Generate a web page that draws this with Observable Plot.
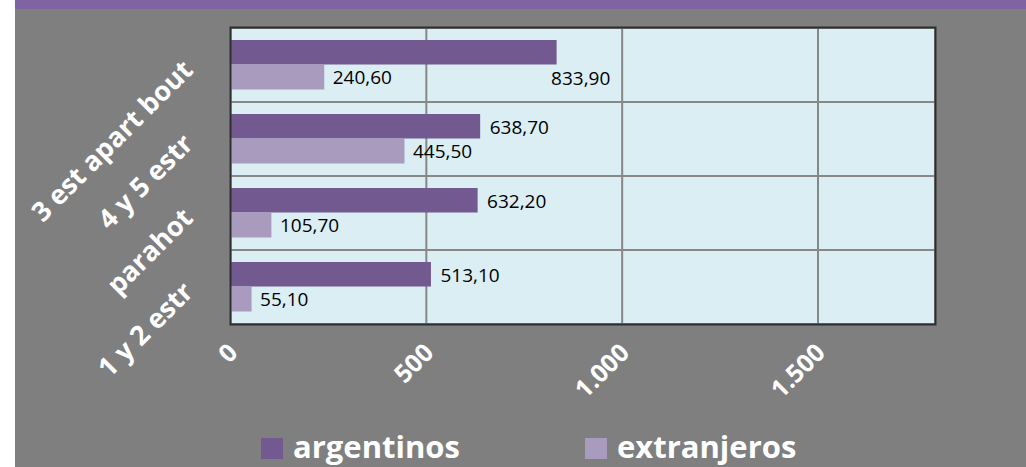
<!DOCTYPE html>
<html>
<head>
<meta charset="utf-8">
<script src="https://cdn.jsdelivr.net/npm/d3@7"></script>
<script src="https://cdn.jsdelivr.net/npm/@observablehq/plot@0.6"></script>
<style>
  html, body { margin: 0; padding: 0; background: #ffffff; overflow: hidden; }
  #wrap { position: absolute; left: 15px; top: 0; width: 1011px; height: 467px; background: #7f7f7f; overflow: hidden; font-family: "Open Sans", sans-serif; }
  #strip { position: absolute; left: 0; top: 0; width: 1011px; height: 9px; background: #8064a2; }
  #chart { position: absolute; left: 0; top: 0; }
  .leg { position: absolute; top: 431px; display: flex; align-items: center; color: #ffffff; font-weight: bold; font-size: 31px; line-height: 30px; height: 30px; }
  .sw { width: 22px; height: 21px; margin-right: 10px; margin-top: 4px; }
</style>
</head>
<body>
<div id="wrap">
  <div id="strip"></div>
  <div id="chart"></div>
</div>
<script>
const categories = ["3 est apart bout", "4 y 5 estr", "parahot", "1 y 2 estr"];
const series = ["argentinos", "extranjeros"];
const argentinos = [833.9, 638.7, 632.2, 513.1];
const extranjeros = [240.6, 445.5, 105.7, 55.1];
const xTicks = [0, 500, 1000, 1500];
const xMax = 1800;
const colors = ["#725990", "#a99bbd"];

const esLocale = d3.formatLocale({decimal: ",", thousands: ".", grouping: [3], currency: ["", ""]});
const fmtVal = esLocale.format(",.2f");
const fmtTick = esLocale.format(",d");

const rows = [];
categories.forEach((c, i) => {
  rows.push({cat: c, series: series[0], value: argentinos[i], first: i === 0});
  rows.push({cat: c, series: series[1], value: extranjeros[i], first: i === 0});
});
const argRows = rows.filter(d => d.series === series[0]);
const extRows = rows.filter(d => d.series === series[1]);

const font = "'Open Sans', sans-serif";

const chart = Plot.plot({
  width: 1011,
  height: 410,
  marginLeft: 215,
  marginRight: 91,
  marginTop: 27,
  marginBottom: 86,
  style: {background: "transparent", color: "#ffffff", fontFamily: font, overflow: "visible"},
  x: {domain: [0, xMax]},
  y: {domain: categories, padding: 0},
  marks: [
    Plot.barX(categories, {y: d => d, x1: 0, x2: xMax, fill: "#dbeef4", stroke: "#878787", strokeWidth: 2}),
    Plot.gridX(xTicks, {stroke: "#878787", strokeOpacity: 1, strokeWidth: 2}),
    Plot.barX(argRows, {y: "cat", x: "value", fill: colors[0], insetTop: 12, insetBottom: 37.5}),
    Plot.barX(extRows, {y: "cat", x: "value", fill: colors[1], insetTop: 36, insetBottom: 12.5}),
    Plot.text(argRows.filter(d => !d.first), {y: "cat", x: "value", text: d => fmtVal(d.value), textAnchor: "start", dx: 9, dy: -12, fill: "#000000", fontSize: 19}),
    Plot.text(argRows.filter(d => d.first), {y: "cat", x: "value", text: d => fmtVal(d.value), textAnchor: "start", dx: -6, dy: 13, fill: "#000000", fontSize: 19}),
    Plot.text(extRows, {y: "cat", x: "value", text: d => fmtVal(d.value), textAnchor: "start", dx: 8, dy: 12, fill: "#000000", fontSize: 19}),
    Plot.frame({stroke: "#2e2e2e", strokeWidth: 2}),
    Plot.axisX({ticks: xTicks, tickFormat: fmtTick, tickRotate: -45, tickSize: 0, tickPadding: 24, fontSize: 25, fontWeight: "bold", fill: "#ffffff", label: null, dx: 3}),
    Plot.axisY({tickRotate: -45, tickSize: 0, tickPadding: 42, fontSize: 27, fontWeight: "bold", fill: "#ffffff", label: null})
  ]
});
document.getElementById("chart").appendChild(chart);

const legLeft = [246, 570];
series.forEach((s, i) => {
  const item = document.createElement("div");
  item.className = "leg";
  item.style.left = legLeft[i] + "px";
  const sw = document.createElement("div");
  sw.className = "sw";
  sw.style.background = colors[i];
  const tx = document.createElement("span");
  tx.textContent = s;
  item.appendChild(sw);
  item.appendChild(tx);
  document.getElementById("wrap").appendChild(item);
});
</script>
</body>
</html>
